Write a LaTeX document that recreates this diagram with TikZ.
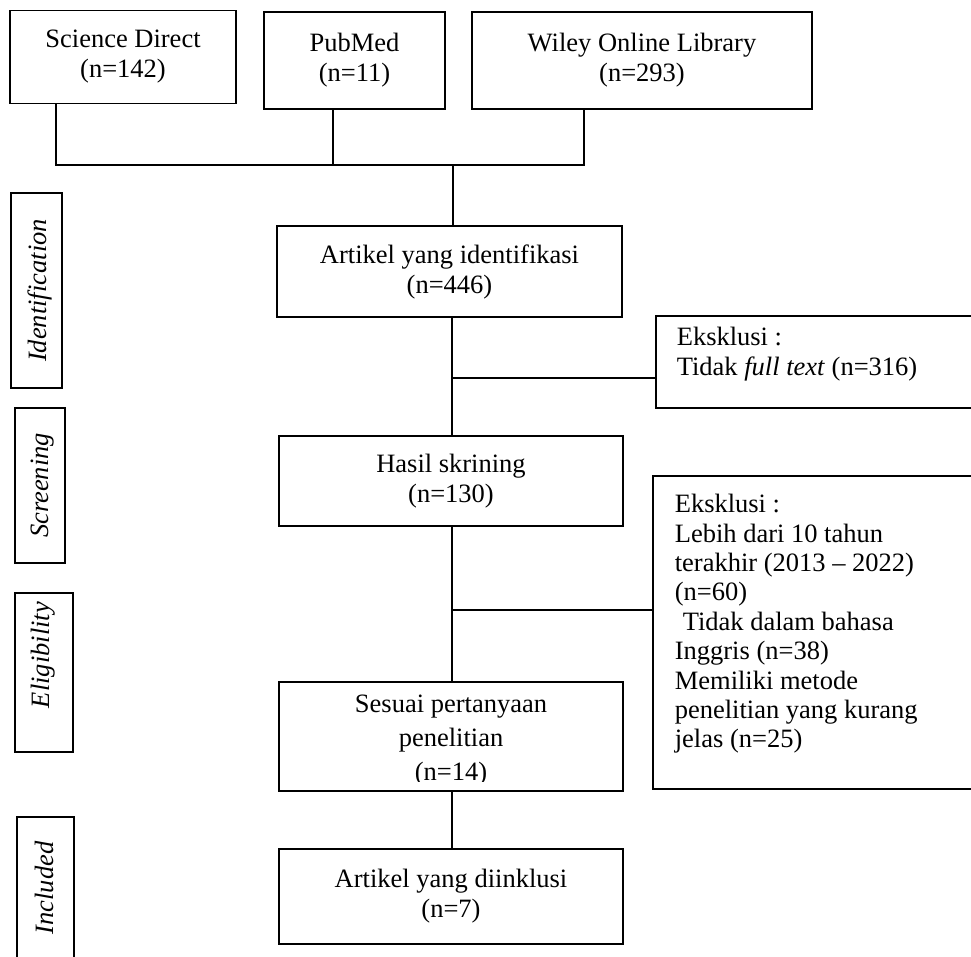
\documentclass[tikz,border=0pt]{standalone}
\usepackage{fontspec}
\setmainfont{Liberation Serif}
\newcommand\fsz{\fontsize{26.5}{30}\selectfont}
\begin{document}
\begin{tikzpicture}[x=1pt,y=-1pt,line width=1.6pt,line join=miter,
  box/.style={draw,rectangle,inner sep=0pt,font=\fsz,align=center},
  frame/.style={draw,rectangle,inner sep=0pt},
  txt/.style={inner sep=0pt,font=\fsz,align=center},
  ltxt/.style={inner sep=0pt,font=\fsz,align=left,anchor=west},
  lbl/.style={inner sep=0pt,font=\fsz\itshape,rotate=90}]
\useasboundingbox (0,0) rectangle (971,956);
\clip (0,0) rectangle (971,956);

% sources
\node[box,minimum width=226pt,minimum height=93pt] (sd) at (123,57) {Science Direct\\(n=142)};
\node[box,minimum width=181pt,minimum height=97pt] (pm) at (354.5,60.5) {PubMed\\(n=11)};
\node[box,minimum width=340pt,minimum height=97pt] (wl) at (642,60.5) {Wiley Online Library\\(n=293)};

\coordinate (j1) at (56,165);
\coordinate (j2) at (333,165);
\coordinate (j3) at (584,165);
\coordinate (jm) at (453,165);

% main column
\node[box,minimum width=345pt,minimum height=91pt] (ai) at (449.5,271.5) {Artikel yang identifikasi\\(n=446)};
\node[box,minimum width=344pt,minimum height=90pt] (hs) at (451,481) {Hasil skrining\\(n=130)};
\node[frame,minimum width=344pt,minimum height=109pt] (sp) at (451,736.5) {};
\begin{scope}
  \clip (279,682) rectangle (623,781);
  \node[txt,font=\fontsize{26.5}{34}\selectfont] (spt) at (451,741) {Sesuai pertanyaan\\penelitian\\(n=14)};
\end{scope}
\node[box,minimum width=344pt,minimum height=95pt] (di) at (451,896.5) {Artikel yang diinklusi\\(n=7)};

% exclusion boxes
\node[frame,minimum width=344pt,minimum height=92pt] (e1) at (828,362) {};
\node[ltxt] (e1t) at (676,354) {Eksklusi :\\Tidak \textit{full text} (n=316)};
\node[frame,minimum width=347pt,minimum height=313pt] (e2) at (826.5,632.5) {};
\node[ltxt,font=\fontsize{26.5}{29.4}\selectfont] (e2t) at (674,624) {Eksklusi :\\Lebih dari 10 tahun\\terakhir (2013 -- 2022)\\(n=60)\\\hspace{8pt}Tidak dalam bahasa\\Inggris (n=38)\\Memiliki metode\\penelitian yang kurang\\jelas (n=25)};

% stage labels
\node[frame,minimum width=51pt,minimum height=195pt] (idb) at (36.5,290.5) {};
\node[lbl] (idt) at (39.5,290.5) {Identification};
\node[frame,minimum width=50pt,minimum height=155pt] (scb) at (40,485.5) {};
\node[lbl] (sct) at (42.5,485.5) {Screening};
\node[frame,minimum width=58pt,minimum height=159pt] (elb) at (44,672.5) {};
\node[lbl] (elt) at (43.5,655) {Eligibility};
\node[frame,minimum width=57pt,minimum height=183pt] (inb) at (45.5,908.5) {};
\node[lbl] (int) at (44.5,888) {Included};

% connectors
\draw (sd.south -| j1) -- (j1) -- (j3) -- (wl.south -| j3);
\draw (pm.south -| j2) -- (j2);
\draw (jm) -- (ai.north -| jm);

\coordinate (b1) at (452,378);
\coordinate (b2) at (452,610);
\draw (ai.south -| b1) -- (hs.north -| b1);
\draw (b1) -- (e1.west |- b1);
\draw (hs.south -| b2) -- (sp.north -| b2);
\draw (b2) -- (e2.west |- b2);
\draw (sp.south -| b2) -- (di.north -| b2);
\end{tikzpicture}
\end{document}
